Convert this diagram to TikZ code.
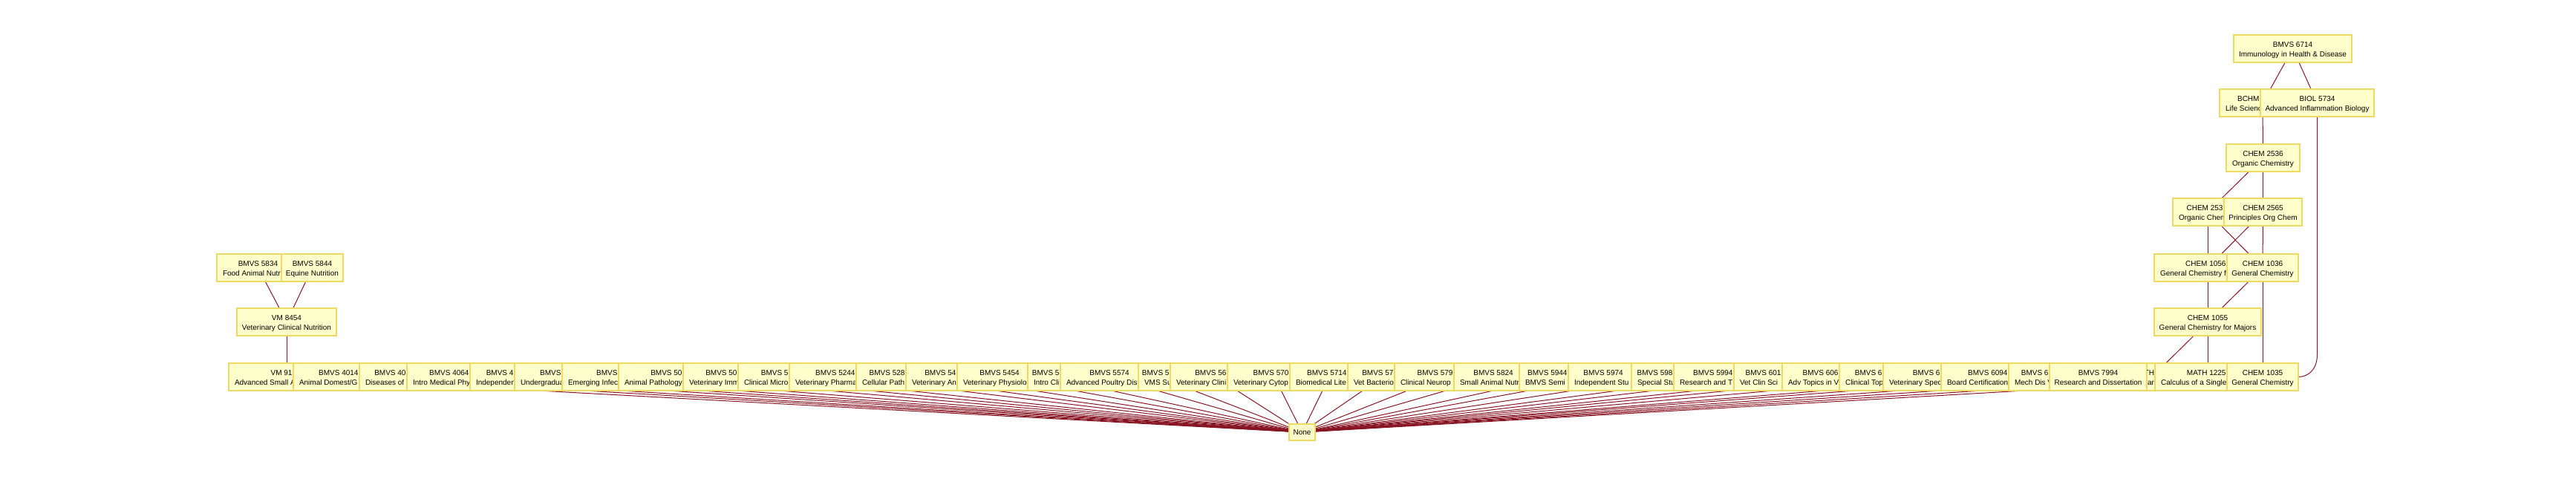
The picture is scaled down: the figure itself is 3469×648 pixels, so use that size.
\documentclass[tikz,border=0pt]{standalone}
\usepackage{fontspec}
\setmainfont{Liberation Sans}
\definecolor{boxfill}{RGB}{255,255,204}
\definecolor{boxline}{RGB}{236,218,100}
\definecolor{edgecol}{RGB}{135,20,35}
\pgfdeclarelayer{bg}
\pgfsetlayers{bg,main}
\tikzset{
  cbox/.style={draw=boxline, fill=boxfill, line width=1.8pt, minimum height=37pt,
    inner sep=0pt, outer sep=0pt, anchor=north west},
  ctext/.style={inner sep=0pt, outer sep=0pt, font=\fontsize{10}{12}\selectfont, text=black},
  edge/.style={draw=edgecol, line width=1pt},
}
% clipped box, code right-aligned at the cut
\newcommand\bxr[7]{%
  \node[cbox, minimum width={#3-#2}] (#1) at (#2,#4) {};
  \coordinate (#1-c) at (#5,{#4+18.5});
  \begin{scope}
    \clip (#2,#4) rectangle (#3,{#4+37});
    \node[ctext, anchor=base east] (#1-a) at ({#3-1.5},{#4+16.2}) {#6};
    \node[ctext, anchor=base west] (#1-b) at ({#2+8},{#4+29.5}) {#7};
  \end{scope}}
% clipped box, code centred on the hidden centre
\newcommand\bxm[7]{%
  \node[cbox, minimum width={#3-#2}] (#1) at (#2,#4) {};
  \coordinate (#1-c) at (#5,{#4+18.5});
  \begin{scope}
    \clip (#2,#4) rectangle (#3,{#4+37});
    \node[ctext, anchor=base] (#1-a) at (#5,{#4+16.2}) {#6};
    \node[ctext, anchor=base west] (#1-b) at ({#2+8},{#4+29.5}) {#7};
  \end{scope}}
% full box, centred text
\newcommand\bxc[6]{%
  \node[cbox, minimum width={#3-#2}] (#1) at (#2,#4) {};
  \coordinate (#1-c) at ({(#2+#3)/2},{#4+18.5});
  \node[ctext, anchor=base] (#1-a) at ({(#2+#3)/2},{#4+16.2}) {#5};
  \node[ctext, anchor=base] (#1-b) at ({(#2+#3)/2},{#4+29.5}) {#6};}

\begin{document}
\begin{tikzpicture}[x=1pt,y=-1pt]
\useasboundingbox (0,0) rectangle (3469,648);

% left group
\bxm{l1}{292}{379}{342}{347.5}{BMVS 5834}{Food Animal Nutr}
\bxc{l2}{379}{462}{342}{BMVS 5844}{Equine Nutrition}
\bxc{l3}{319}{453}{415}{VM 8454}{Veterinary Clinical Nutrition}

% right group
\bxc{t1}{3008}{3167}{47}{BMVS 6714}{Immunology in Health \& Disease}
\bxr{t2}{2989}{3044}{120}{3047}{BCHM}{Life Scienc}
\bxc{t3}{3044}{3197}{120}{BIOL 5734}{Advanced Inflammation Biology}
\bxc{t4}{2998}{3097}{194}{CHEM 2536}{Organic Chemistry}
\bxr{t5}{2926}{2995}{267}{2973}{CHEM 253}{Organic Chem}
\bxc{t6}{2995}{3100}{267}{CHEM 2565}{Principles Org Chem}
\bxr{t7}{2901}{2999}{342}{2973}{CHEM 1056}{General Chemistry f}
\bxc{t8}{2999}{3095}{342}{CHEM 1036}{General Chemistry}
\bxc{t9}{2901}{3045}{415}{CHEM 1055}{General Chemistry for Majors}

% bottom row
\bxr{b01}{308}{395}{489}{386}{VM 91}{Advanced Small A}
\bxr{b02}{395}{484}{489}{468}{BMVS 4014}{Animal Domest/G}
\bxr{b03}{484}{548}{489}{532}{BMVS 40}{Diseases of}
\bxr{b04}{548}{633}{489}{617}{BMVS 4064}{Intro Medical Phy}
\bxr{b05}{633}{693}{489}{677}{BMVS 4}{Independen}
\bxr{b06}{693}{757}{489}{741}{BMVS}{Undergradua}
\bxr{b07}{757}{833}{489}{817}{BMVS}{Emerging Infec}
\bxr{b08}{833}{920}{489}{904}{BMVS 50}{Animal Pathology}
\bxr{b09}{920}{994}{489}{978}{BMVS 50}{Veterinary Imm}
\bxr{b10}{994}{1063}{489}{1047}{BMVS 5}{Clinical Micro}
\bxr{b11}{1063}{1153}{489}{1137}{BMVS 5244}{Veterinary Pharma}
\bxr{b12}{1153}{1220}{489}{1204}{BMVS 528}{Cellular Path}
\bxr{b13}{1220}{1289}{489}{1273}{BMVS 54}{Veterinary An}
\bxm{b14}{1289}{1384}{489}{1346}{BMVS 5454}{Veterinary Physiolo}
\bxr{b15}{1384}{1428}{489}{1412}{BMVS 5}{Intro Cli}
\bxm{b16}{1428}{1533}{489}{1494}{BMVS 5574}{Advanced Poultry Dis}
\bxr{b17}{1533}{1576}{489}{1560}{BMVS 5}{VMS Su}
\bxr{b18}{1576}{1653}{489}{1637}{BMVS 56}{Veterinary Clini}
\bxr{b19}{1653}{1737}{489}{1716}{BMVS 570}{Veterinary Cytop}
\bxr{b20}{1737}{1815}{489}{1790}{BMVS 5714}{Biomedical Lite}
\bxr{b21}{1815}{1878}{489}{1862}{BMVS 57}{Vet Bacterio}
\bxr{b22}{1878}{1958}{489}{1942}{BMVS 579}{Clinical Neurop}
\bxm{b23}{1958}{2046}{489}{2011}{BMVS 5824}{Small Animal Nutr}
\bxr{b24}{2046}{2112}{489}{2096}{BMVS 5944}{BMVS Semi}
\bxm{b25}{2112}{2197}{489}{2159}{BMVS 5974}{Independent Stu}
\bxr{b26}{2197}{2254}{489}{2238}{BMVS 598}{Special Stu}
\bxr{b27}{2254}{2335}{489}{2319}{BMVS 5994}{Research and T}
\bxr{b28}{2335}{2400}{489}{2384}{BMVS 601}{Vet Clin Sci}
\bxr{b29}{2400}{2477}{489}{2461}{BMVS 606}{Adv Topics in V}
\bxr{b30}{2477}{2536}{489}{2520}{BMVS 6}{Clinical Top}
\bxr{b31}{2536}{2614}{489}{2598}{BMVS 6}{Veterinary Spec}
\bxr{b32}{2614}{2705}{489}{2689}{BMVS 6094}{Board Certification}
\bxr{b33}{2705}{2760}{489}{2744}{BMVS 6}{Mech Dis V}
\bxc{b34}{2760}{2891}{489}{BMVS 7994}{Research and Dissertation}
\node[cbox, minimum width=11] (b35) at (2891,489) {};
\coordinate (b35-c) at (2898,507.5);
\begin{scope}
  \clip (2891,489) rectangle (2902,526);
  \node[ctext, anchor=base east] (b35-a) at (2901,505.2) {TH};
  \node[ctext, anchor=base east] (b35-b) at (2901,518.5) {ar};
\end{scope}
\bxr{b36}{2902}{2999}{489}{2973}{MATH 1225}{Calculus of a Single}
\bxc{b37}{2999}{3095}{489}{CHEM 1035}{General Chemistry}

% sink node
\node[cbox, anchor=center, minimum width=35pt, minimum height=22pt,
      font=\fontsize{10}{12}\selectfont] (none) at (1753.5,582) {None};

\begin{pgfonlayer}{bg}
  \foreach \n in {b01,b02,b03,b04,b05,b06,b07,b08,b09,b10,b11,b12,b13,b14,b15,b16,b17,b18,b19,
                  b20,b21,b22,b23,b24,b25,b26,b27,b28,b29,b30,b31,b32,b33,b34,b35,b36,b37}
    \draw[edge] (\n-c) -- (none);
  \draw[edge] (l1-c) -- (l3-c);
  \draw[edge] (l2-c) -- (l3-c);
  \draw[edge] (l3-c) -- (b01-c);
  \draw[edge] (t1-c) -- (t2-c);
  \draw[edge] (t1-c) -- (t3-c);
  \draw[edge] (t2-c) -- (t4-c);
  \draw[edge] (t4-c) -- (t5-c);
  \draw[edge] (t4-c) -- (t6-c);
  \draw[edge] (t5-c) -- (t7-c);
  \draw[edge] (t5-c) -- (t8-c);
  \draw[edge] (t6-c) -- (t7-c);
  \draw[edge] (t6-c) -- (t8-c);
  \draw[edge] (t7-c) -- (t9-c);
  \draw[edge] (t8-c) -- (t9-c);
  \draw[edge] (t8-c) -- (b37-c);
  \draw[edge] (t9-c) -- (b36-c);
  \draw[edge] (t9-c) -- (b35-c);
  \draw[edge] (t3.south) -- ++(0,320) .. controls +(0,22) and +(12,0) .. (b37.east);
\end{pgfonlayer}
\end{tikzpicture}
\end{document}
